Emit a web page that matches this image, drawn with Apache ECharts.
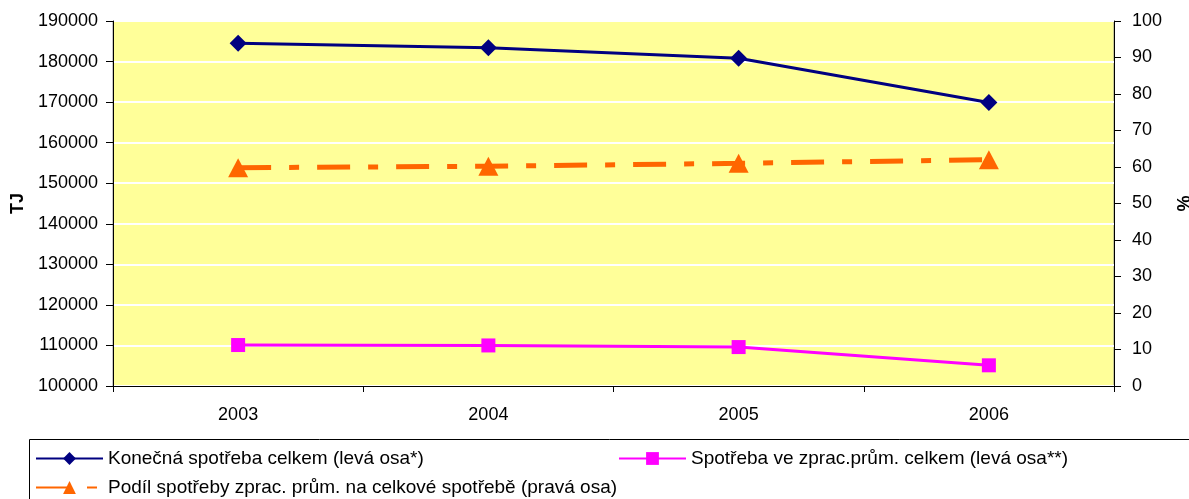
<!DOCTYPE html>
<html>
<head>
<meta charset="utf-8">
<script src="https://cdn.jsdelivr.net/npm/echarts@6/dist/echarts.min.js"></script>
<style>
html,body{margin:0;padding:0;background:#fff;}
#chart{width:1189px;height:499px;}
</style>
</head>
<body>
<div id="chart"></div>
<script>
const years = ['2003', '2004', '2005', '2006'];
const konecna = [184500, 183400, 180800, 169900];
const zpracPrum = [110100, 110000, 109600, 105100];
const podil = [59.8, 60.2, 61.0, 62.0];
const leftTicks = { min: 100000, max: 190000, interval: 10000 };
const rightTicks = { min: 0, max: 100, interval: 10 };
const names = [
  'Konečná spotřeba celkem (levá osa*)',
  'Spotřeba ve zprac.prům. celkem (levá osa**)',
  'Podíl spotřeby zprac. prům. na celkové spotřebě (pravá osa)'
];

const FONT = 'Liberation Sans, Arial, sans-serif';
const txt = { fontFamily: FONT, fontSize: 18, color: '#000' };
const plain = v => String(v);

const chart = echarts.init(document.getElementById('chart'), null, { renderer: 'canvas' });
const legendBase = {
  orient: 'horizontal', itemWidth: 67, itemHeight: 16, padding: 0, itemGap: 0,
  textStyle: { fontFamily: FONT, fontSize: 19, color: '#000' },
  selectedMode: false
};
chart.setOption({
  animation: false,
  backgroundColor: '#fff',
  grid: {
    left: 113, right: 75, top: 21, bottom: 113,
    outerBoundsMode: 'none', containLabel: false,
    show: true, backgroundColor: '#FFFF99', borderColor: '#909090', borderWidth: 1
  },
  graphic: [{
    type: 'rect', shape: { x: 29.5, y: 439.5, width: 1200, height: 80 },
    style: { fill: 'none', stroke: '#000', lineWidth: 1 }, z: 0
  }],
  legend: [
    Object.assign({}, legendBase, { left: 35, top: 449, data: [names[0]] }),
    Object.assign({}, legendBase, { left: 618, top: 449, data: [names[1]] }),
    Object.assign({}, legendBase, { left: 35, top: 478, data: [names[2]] })
  ],
  xAxis: {
    type: 'category', data: years, boundaryGap: true,
    axisLine: { lineStyle: { color: '#000', width: 1 } },
    axisTick: { show: true, length: 6, lineStyle: { color: '#000' } },
    axisLabel: Object.assign({ margin: 20 }, txt),
    splitLine: { show: false }
  },
  yAxis: [{
    type: 'value', position: 'left',
    min: leftTicks.min, max: leftTicks.max, interval: leftTicks.interval,
    name: 'TJ', nameLocation: 'middle', nameGap: 84, nameRotate: 90,
    nameTextStyle: { fontFamily: FONT, fontSize: 18, fontWeight: 'bold', color: '#000' },
    axisLine: { show: true, lineStyle: { color: '#000', width: 1 } },
    axisTick: { show: true, length: 7, lineStyle: { color: '#000' } },
    axisLabel: Object.assign({ margin: 15, formatter: plain }, txt),
    splitLine: { show: true, lineStyle: { color: '#fff', width: 2 } }
  }, {
    type: 'value', position: 'right',
    min: rightTicks.min, max: rightTicks.max, interval: rightTicks.interval,
    name: '%', nameLocation: 'middle', nameGap: 56, nameRotate: -90,
    nameTextStyle: { fontFamily: FONT, fontSize: 18, fontWeight: 'bold', color: '#000' },
    axisLine: { show: true, lineStyle: { color: '#000', width: 1 } },
    axisTick: { show: true, length: 7, lineStyle: { color: '#000' } },
    axisLabel: Object.assign({ margin: 18, formatter: plain }, txt),
    splitLine: { show: false }
  }],
  series: [{
    name: names[0], type: 'line', yAxisIndex: 0, data: konecna,
    symbol: 'diamond', symbolSize: 17,
    lineStyle: { color: '#000080', width: 3 },
    itemStyle: { color: '#000080' }, z: 3
  }, {
    name: names[1], type: 'line', yAxisIndex: 0, data: zpracPrum,
    symbol: 'rect', symbolSize: 14,
    lineStyle: { color: '#FF00FF', width: 3 },
    itemStyle: { color: '#FF00FF' }, z: 3
  }, {
    name: names[2], type: 'line', yAxisIndex: 1, data: podil,
    symbol: 'triangle', symbolSize: [20, 19],
    lineStyle: { color: '#FF6600', width: 5, type: [33, 18, 10, 18], cap: 'butt' },
    itemStyle: { color: '#FF6600' }, z: 3
  }]
});
</script>
</body>
</html>
